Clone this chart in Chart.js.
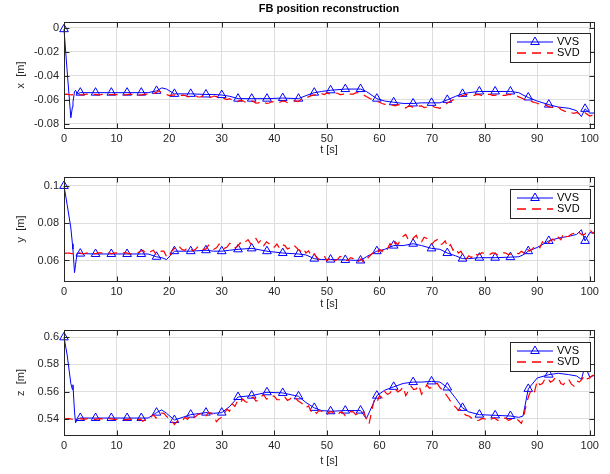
<!DOCTYPE html>
<html>
<head>
<meta charset="utf-8">
<script src="https://cdn.jsdelivr.net/npm/chart.js@4/dist/chart.umd.min.js"></script>
<style>
  body { margin: 0; background: #fff; width: 610px; height: 474px; overflow: hidden; position: relative; }
  canvas { position: absolute; left: 0; }
</style>
</head>
<body>
<canvas id="chartX" width="610" height="160" style="top:0"></canvas>
<canvas id="chartY" width="610" height="152" style="top:160px"></canvas>
<canvas id="chartZ" width="610" height="162" style="top:312px"></canvas>
<script>
// ── Data ──────────────────────────────────────────────────────────────────────
const tV = [0, 0.6, 1.3, 1.6, 1.7, 2.0, 2.2, 2.5,
  3.1, 6, 9, 12, 14.7, 16,
  17.6, 18.6, 19.5, 21,
  24.1, 27, 28.5, 30, 31.5, 33.1,
  35.7, 38.6, 41.6, 44.6, 46, 47.6,
  49, 50.7, 53.5, 56.4, 57.5, 59.5,
  61, 62.7, 64.5, 66.4, 68, 69.9,
  71.5, 72.9, 74.5, 75.8, 77, 79,
  82, 84.9, 86.5, 87.3, 88.3, 90,
  92.2, 94, 96, 97.5, 98.4, 99.1,
  100, 101];

const vvsMarkT = [0, 3.1, 6, 9, 12, 14.7, 17.6, 21, 24.1, 27, 30, 33.1, 35.7, 38.6, 41.6,
  44.6, 47.6, 50.7, 53.5, 56.4, 59.5, 62.7, 66.4, 69.9, 72.9, 75.8, 79, 82, 84.9, 88.3, 92.2, 99.1];

const xVVS = [-0.001, -0.036, -0.075, -0.066, -0.062, -0.053, -0.052, -0.055,
  -0.054, -0.054, -0.054, -0.054, -0.054, -0.054,
  -0.0525, -0.050, -0.051, -0.055,
  -0.055, -0.0555, -0.0555, -0.056, -0.057, -0.059,
  -0.059, -0.059, -0.0585, -0.059, -0.0565, -0.054,
  -0.053, -0.052, -0.051, -0.051, -0.053, -0.059,
  -0.061, -0.062, -0.063, -0.063, -0.0625, -0.0625,
  -0.0625, -0.060, -0.057, -0.055, -0.054, -0.053,
  -0.053, -0.053, -0.054, -0.056, -0.058, -0.061,
  -0.064, -0.066, -0.067, -0.069, -0.074, -0.0675,
  -0.071, -0.071];

const yVVS = [0.100, 0.090, 0.0775, 0.069, 0.066, 0.0535, 0.058, 0.064,
  0.0637, 0.0635, 0.0635, 0.0635, 0.0635, 0.0635,
  0.062, 0.0615, 0.0605, 0.065,
  0.065, 0.0655, 0.065, 0.065, 0.0655, 0.066,
  0.0665, 0.065, 0.064, 0.0635, 0.063, 0.061,
  0.0605, 0.0605, 0.0603, 0.060, 0.062, 0.065,
  0.066, 0.068, 0.068, 0.069, 0.068, 0.0665,
  0.066, 0.064, 0.0625, 0.061, 0.061, 0.0615,
  0.0615, 0.0618, 0.062, 0.063, 0.065, 0.067,
  0.0705, 0.072, 0.073, 0.074, 0.0765, 0.0705,
  0.075, 0.0745];

const zVVS = [0.600, 0.587, 0.566, 0.5615, 0.565, 0.545, 0.537, 0.5395,
  0.5405, 0.5405, 0.5405, 0.5405, 0.5405, 0.5405,
  0.5445, 0.5465, 0.544, 0.539,
  0.543, 0.5445, 0.544, 0.5445, 0.549, 0.556,
  0.557, 0.5595, 0.559, 0.5565, 0.552, 0.548,
  0.546, 0.5455, 0.546, 0.546, 0.540, 0.557,
  0.561, 0.5635, 0.566, 0.567, 0.567, 0.5675,
  0.567, 0.563, 0.555, 0.548, 0.545, 0.543,
  0.5425, 0.542, 0.541, 0.542, 0.562, 0.570,
  0.5725, 0.5735, 0.5725, 0.5715, 0.569, 0.579,
  0.5705, 0.5725];

// SVD samples every 0.5 s
const tS = [
  0, 0.5, 1, 1.5, 2, 2.5, 3, 3.5, 4, 4.5, 5, 5.5, 6, 6.5, 7, 7.5, 8, 8.5, 9, 9.5,
  10, 10.5, 11, 11.5, 12, 12.5, 13, 13.5, 14, 14.5, 15, 15.5, 16, 16.5, 17, 17.5, 18, 18.5, 19, 19.5,
  20, 20.5, 21, 21.5, 22, 22.5, 23, 23.5, 24, 24.5, 25, 25.5, 26, 26.5, 27, 27.5, 28, 28.5, 29, 29.5,
  30, 30.5, 31, 31.5, 32, 32.5, 33, 33.5, 34, 34.5, 35, 35.5, 36, 36.5, 37, 37.5, 38, 38.5, 39, 39.5,
  40, 40.5, 41, 41.5, 42, 42.5, 43, 43.5, 44, 44.5, 45, 45.5, 46, 46.5, 47, 47.5, 48, 48.5, 49, 49.5,
  50, 50.5, 51, 51.5, 52, 52.5, 53, 53.5, 54, 54.5, 55, 55.5, 56, 56.5, 57, 57.5, 58, 58.5, 59, 59.5,
  60, 60.5, 61, 61.5, 62, 62.5, 63, 63.5, 64, 64.5, 65, 65.5, 66, 66.5, 67, 67.5, 68, 68.5, 69, 69.5,
  70, 70.5, 71, 71.5, 72, 72.5, 73, 73.5, 74, 74.5, 75, 75.5, 76, 76.5, 77, 77.5, 78, 78.5, 79, 79.5,
  80, 80.5, 81, 81.5, 82, 82.5, 83, 83.5, 84, 84.5, 85, 85.5, 86, 86.5, 87, 87.5, 88, 88.5, 89, 89.5,
  90, 90.5, 91, 91.5, 92, 92.5, 93, 93.5, 94, 94.5, 95, 95.5, 96, 96.5, 97, 97.5, 98, 98.5, 99, 99.5,
  100, 100.5, 101];

const xSVD = [
  -0.0555, -0.0553, -0.0556, -0.0558, -0.0554, -0.0552, -0.0556, -0.0558, -0.0555, -0.0553, -0.0557, -0.0555, -0.0555, -0.0558, -0.0556, -0.0553, -0.0554, -0.0557, -0.0556, -0.0554,
  -0.0557, -0.0555, -0.0555, -0.0558, -0.0556, -0.0553, -0.0554, -0.0557, -0.0557, -0.0560, -0.0556, -0.0552, -0.0553, -0.0558, -0.0547, -0.0540, -0.0525, -0.0535, -0.0545, -0.0555,
  -0.0565, -0.0560, -0.0558, -0.0570, -0.0568, -0.0560, -0.0562, -0.0574, -0.0572, -0.0563, -0.0566, -0.0576, -0.0575, -0.0565, -0.0567, -0.0580, -0.0578, -0.0568, -0.0573, -0.0585,
  -0.0582, -0.0590, -0.0598, -0.0590, -0.0602, -0.0612, -0.0615, -0.0605, -0.0608, -0.0620, -0.0622, -0.0610, -0.0613, -0.0627, -0.0625, -0.0614, -0.0617, -0.0630, -0.0626, -0.0615,
  -0.0618, -0.0625, -0.0622, -0.0610, -0.0612, -0.0624, -0.0620, -0.0610, -0.0608, -0.0615, -0.0600, -0.0590, -0.0582, -0.0575, -0.0565, -0.0560, -0.0555, -0.0550, -0.0548, -0.0556,
  -0.0542, -0.0550, -0.0552, -0.0542, -0.0545, -0.0556, -0.0555, -0.0545, -0.0543, -0.0553, -0.0552, -0.0542, -0.0540, -0.0548, -0.0560, -0.0572, -0.0585, -0.0595, -0.0605, -0.0612,
  -0.0620, -0.0630, -0.0638, -0.0628, -0.0632, -0.0645, -0.0650, -0.0640, -0.0643, -0.0660, -0.0668, -0.0652, -0.0655, -0.0665, -0.0662, -0.0652, -0.0650, -0.0664, -0.0660, -0.0650,
  -0.0648, -0.0662, -0.0665, -0.0670, -0.0655, -0.0640, -0.0625, -0.0612, -0.0600, -0.0588, -0.0575, -0.0568, -0.0562, -0.0555, -0.0555, -0.0563, -0.0562, -0.0554, -0.0556, -0.0564,
  -0.0563, -0.0555, -0.0555, -0.0562, -0.0562, -0.0554, -0.0556, -0.0563, -0.0562, -0.0555, -0.0557, -0.0560, -0.0565, -0.0575, -0.0585, -0.0595, -0.0603, -0.0597, -0.0615, -0.0622,
  -0.0628, -0.0638, -0.0645, -0.0640, -0.0652, -0.0660, -0.0663, -0.0672, -0.0658, -0.0680, -0.0690, -0.0700, -0.0695, -0.0708, -0.0712, -0.0705, -0.0718, -0.0725, -0.0705, -0.0720,
  -0.0735, -0.0728, -0.0728];

const ySVD = [
  0.0638, 0.0640, 0.0640, 0.0637, 0.0637, 0.0640, 0.0641, 0.0637, 0.0638, 0.0641, 0.0640, 0.0637, 0.0637, 0.0641, 0.0641, 0.0638, 0.0639, 0.0642, 0.0636, 0.0640,
  0.0641, 0.0637, 0.0638, 0.0642, 0.0640, 0.0636, 0.0637, 0.0643, 0.0641, 0.0648, 0.0655, 0.0640, 0.0638, 0.0648, 0.0655, 0.0633, 0.0630, 0.0650, 0.0650, 0.0622,
  0.0615, 0.0650, 0.0665, 0.0655, 0.0672, 0.0658, 0.0655, 0.0670, 0.0668, 0.0652, 0.0660, 0.0676, 0.0675, 0.0658, 0.0662, 0.0682, 0.0680, 0.0660, 0.0668, 0.0688,
  0.0685, 0.0665, 0.0672, 0.0692, 0.0690, 0.0668, 0.0675, 0.0695, 0.0685, 0.0700, 0.0712, 0.0690, 0.0705, 0.0718, 0.0695, 0.0710, 0.0680, 0.0700, 0.0690, 0.0670,
  0.0672, 0.0688, 0.0665, 0.0685, 0.0680, 0.0662, 0.0668, 0.0684, 0.0675, 0.0660, 0.0650, 0.0665, 0.0640, 0.0652, 0.0628, 0.0640, 0.0620, 0.0605, 0.0610, 0.0625,
  0.0598, 0.0612, 0.0615, 0.0600, 0.0605, 0.0622, 0.0618, 0.0600, 0.0600, 0.0615, 0.0610, 0.0594, 0.0595, 0.0610, 0.0588, 0.0605, 0.0620, 0.0635, 0.0645, 0.0632,
  0.0660, 0.0648, 0.0672, 0.0660, 0.0690, 0.0672, 0.0700, 0.0685, 0.0712, 0.0730, 0.0740, 0.0710, 0.0705, 0.0722, 0.0735, 0.0700, 0.0700, 0.0725, 0.0718, 0.0695,
  0.0688, 0.0705, 0.0712, 0.0685, 0.0690, 0.0705, 0.0670, 0.0685, 0.0655, 0.0668, 0.0640, 0.0650, 0.0620, 0.0608, 0.0625, 0.0615, 0.0640, 0.0630, 0.0632, 0.0642,
  0.0638, 0.0630, 0.0633, 0.0641, 0.0638, 0.0630, 0.0634, 0.0642, 0.0640, 0.0632, 0.0635, 0.0643, 0.0642, 0.0636, 0.0650, 0.0640, 0.0665, 0.0650, 0.0660, 0.0675,
  0.0680, 0.0668, 0.0700, 0.0685, 0.0690, 0.0708, 0.0715, 0.0700, 0.0725, 0.0712, 0.0745, 0.0728, 0.0730, 0.0742, 0.0745, 0.0735, 0.0750, 0.0738, 0.0740, 0.0755,
  0.0765, 0.0748, 0.0755];

const zSVD = [
  0.5398, 0.5401, 0.5400, 0.5396, 0.5396, 0.5400, 0.5401, 0.5397, 0.5397, 0.5401, 0.5399, 0.5395, 0.5395, 0.5399, 0.5400, 0.5396, 0.5397, 0.5401, 0.5399, 0.5395,
  0.5395, 0.5399, 0.5398, 0.5394, 0.5394, 0.5399, 0.5396, 0.5392, 0.5390, 0.5398, 0.5382, 0.5396, 0.5395, 0.5410, 0.5430, 0.5405, 0.5415, 0.5442, 0.5440, 0.5418,
  0.5400, 0.5385, 0.5358, 0.5380, 0.5395, 0.5385, 0.5410, 0.5395, 0.5425, 0.5408, 0.5415, 0.5432, 0.5435, 0.5415, 0.5420, 0.5445, 0.5440, 0.5418, 0.5378, 0.5400,
  0.5410, 0.5440, 0.5470, 0.5455, 0.5510, 0.5490, 0.5530, 0.5515, 0.5545, 0.5525, 0.5520, 0.5550, 0.5560, 0.5530, 0.5535, 0.5565, 0.5575, 0.5545, 0.5550, 0.5570,
  0.5565, 0.5540, 0.5540, 0.5562, 0.5560, 0.5535, 0.5545, 0.5565, 0.5555, 0.5532, 0.5520, 0.5505, 0.5480, 0.5495, 0.5455, 0.5470, 0.5440, 0.5460, 0.5455, 0.5432,
  0.5430, 0.5452, 0.5450, 0.5428, 0.5425, 0.5448, 0.5445, 0.5422, 0.5430, 0.5452, 0.5450, 0.5430, 0.5440, 0.5455, 0.5450, 0.5400, 0.5360, 0.5450, 0.5540, 0.5520,
  0.5570, 0.5555, 0.5600, 0.5580, 0.5590, 0.5615, 0.5620, 0.5598, 0.5610, 0.5635, 0.5570, 0.5605, 0.5640, 0.5615, 0.5620, 0.5648, 0.5580, 0.5610, 0.5650, 0.5625,
  0.5630, 0.5655, 0.5660, 0.5630, 0.5610, 0.5585, 0.5560, 0.5530, 0.5500, 0.5485, 0.5460, 0.5470, 0.5440, 0.5425, 0.5420, 0.5405, 0.5405, 0.5388, 0.5390, 0.5402,
  0.5400, 0.5385, 0.5388, 0.5403, 0.5402, 0.5387, 0.5390, 0.5404, 0.5405, 0.5388, 0.5395, 0.5405, 0.5400, 0.5385, 0.5365, 0.5430, 0.5520, 0.5580, 0.5620, 0.5600,
  0.5680, 0.5650, 0.5660, 0.5695, 0.5700, 0.5670, 0.5680, 0.5705, 0.5700, 0.5660, 0.5650, 0.5685, 0.5690, 0.5655, 0.5640, 0.5680, 0.5670, 0.5690, 0.5720, 0.5695,
  0.5700, 0.5720, 0.5715];

const tTicks = [0, 10, 20, 30, 40, 50, 60, 70, 80, 90, 100];
const xTicks = [0, -0.02, -0.04, -0.06, -0.08];
const yTicks = [0.06, 0.08, 0.1];
const zTicks = [0.54, 0.56, 0.58, 0.6];

// ── Style ─────────────────────────────────────────────────────────────────────
const FONT = "'Liberation Sans', Arial, Helvetica, sans-serif";
const AXIS = "#262626";
const GRID = "#dedede";
const BLUE = "#0000ff";
const RED = "#ff0000";
const DASH = [9, 6];

const markSet = new Set(vvsMarkT);
const pts = (ts, vs) => ts.map((t, i) => ({ x: t, y: vs[i] }));
const fmt = v => String(+v.toFixed(4));

function triangle(ctx, x, y, r) {
  ctx.beginPath();
  ctx.moveTo(x, y - r);
  ctx.lineTo(x + r * 0.866, y + r * 0.5);
  ctx.lineTo(x - r * 0.866, y + r * 0.5);
  ctx.closePath();
  ctx.stroke();
}

// box, inner ticks, legend (MATLAB look)
const matlabBox = {
  id: "matlabBox",
  afterDatasetsDraw(chart) {
    const { ctx, chartArea: a, scales } = chart;
    const o = chart.options.plugins.matlabBox;
    const L = Math.round(a.left) + 0.5, R = Math.round(a.right) + 0.5;
    const T = Math.round(a.top) + 0.5, B = Math.round(a.bottom) + 0.5;
    ctx.save();
    ctx.strokeStyle = AXIS;
    ctx.lineWidth = 1;
    ctx.beginPath();
    scales.x.ticks.forEach(tk => {
      const p = Math.round(scales.x.getPixelForValue(tk.value)) + 0.5;
      ctx.moveTo(p, B); ctx.lineTo(p, B - 5);
      ctx.moveTo(p, T); ctx.lineTo(p, T + 5);
    });
    scales.y.ticks.forEach(tk => {
      const p = Math.round(scales.y.getPixelForValue(tk.value)) + 0.5;
      ctx.moveTo(L, p); ctx.lineTo(L + 5, p);
      ctx.moveTo(R, p); ctx.lineTo(R - 5, p);
    });
    ctx.stroke();
    ctx.strokeRect(L, T, R - L, B - T);

    // legend
    const bx = Math.round(a.right) - 84, by = Math.round(a.top) + o.legendTop;
    const bw = 80, bh = 29;
    ctx.fillStyle = "#fff";
    ctx.fillRect(bx, by, bw, bh);
    ctx.strokeRect(bx + 0.5, by + 0.5, bw, bh);
    const r1 = by + 9, r2 = by + 20;
    ctx.strokeStyle = BLUE;
    ctx.beginPath(); ctx.moveTo(bx + 7, r1); ctx.lineTo(bx + 43, r1); ctx.stroke();
    triangle(ctx, bx + 25, r1, 5);
    ctx.strokeStyle = RED;
    ctx.lineWidth = 1.3;
    ctx.setLineDash(DASH);
    ctx.beginPath(); ctx.moveTo(bx + 7, r2); ctx.lineTo(bx + 43, r2); ctx.stroke();
    ctx.setLineDash([]);
    ctx.fillStyle = "#000";
    ctx.font = "11px " + FONT;
    ctx.textBaseline = "middle";
    ctx.fillText("VVS", bx + 47, r1);
    ctx.fillText("SVD", bx + 47, r2);

    if (o.title) {
      ctx.font = "bold 11px " + FONT;
      ctx.textAlign = "center";
      ctx.fillText(o.title, (a.left + a.right) / 2, 9);
    }
    ctx.restore();
  },
};

function makePanel(id, vvs, svd, yLabel, yMin, yMax, yTickVals, opts) {
  return new Chart(document.getElementById(id), {
    type: "line",
    data: {
      datasets: [
        {
          label: "SVD",
          data: pts(tS, svd),
          borderColor: RED,
          borderWidth: 1.2,
          borderDash: DASH,
          pointRadius: 0,
          fill: false,
          tension: 0,
        },
        {
          label: "VVS",
          data: pts(tV, vvs),
          borderColor: BLUE,
          borderWidth: 1,
          pointStyle: "triangle",
          pointRadius: c => (markSet.has(c.raw && c.raw.x) ? 5 : 0),
          pointBorderColor: BLUE,
          pointBackgroundColor: "rgba(0,0,0,0)",
          pointBorderWidth: 1,
          fill: false,
          tension: 0,
          clip: { left: 8, top: 8, right: 1, bottom: 8 },
        },
      ],
    },
    options: {
      responsive: false,
      animation: false,
      events: [],
      layout: { padding: { top: opts.top, right: 16, left: 0, bottom: 0 } },
      plugins: {
        legend: { display: false },
        tooltip: { enabled: false },
        matlabBox: { legendTop: opts.legendTop, title: opts.title },
      },
      scales: {
        x: {
          type: "linear",
          min: 0, max: 100.8,
          afterBuildTicks: s => { s.ticks = tTicks.map(v => ({ value: v })); },
          afterFit: s => { s.height = opts.xh; },
          ticks: { color: AXIS, font: { family: FONT, size: 11 }, padding: 4, maxRotation: 0 },
          grid: { color: GRID, drawTicks: false },
          border: { display: false },
          title: { display: true, text: "t [s]", color: AXIS, font: { family: FONT, size: 11 }, padding: { top: 0, bottom: opts.tpb } },
        },
        y: {
          min: yMin, max: yMax,
          afterBuildTicks: s => { s.ticks = yTickVals.map(v => ({ value: v })); },
          afterFit: s => { s.width = 64; },
          ticks: { color: AXIS, font: { family: FONT, size: 11 }, padding: 5, callback: fmt },
          grid: { color: GRID, drawTicks: false },
          border: { display: false },
          title: { display: true, text: yLabel, color: AXIS, font: { family: FONT, size: 11 }, padding: { top: 14, bottom: 0 } },
        },
      },
    },
    plugins: [matlabBox],
  });
}

makePanel("chartX", xVVS, xSVD, "x  [m]", -0.0835, 0.005, xTicks,
  { top: 22, xh: 32, tpb: 3.4, legendTop: 11, title: "FB position reconstruction" });
makePanel("chartY", yVVS, ySVD, "y  [m]", 0.049, 0.1048, yTicks,
  { top: 17, xh: 31, tpb: 1, legendTop: 12 });
makePanel("chartZ", zVVS, zSVD, "z  [m]", 0.528, 0.6054, zTicks,
  { top: 18, xh: 39, tpb: 6.4, legendTop: 12 });
</script>
</body>
</html>
